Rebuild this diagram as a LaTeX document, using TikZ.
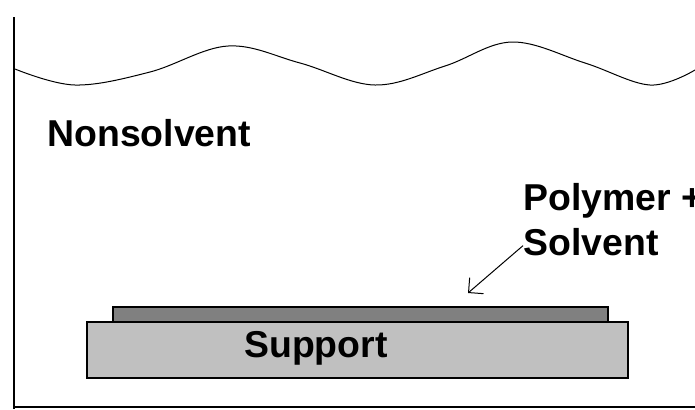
\documentclass[tikz,border=0pt]{standalone}
\usepackage{fontspec}
\setmainfont{Liberation Sans}
\usetikzlibrary{arrows.meta}
\definecolor{filmgray}{RGB}{128,128,128}
\definecolor{supportgray}{RGB}{192,192,192}
\begin{document}
\begin{tikzpicture}[x=0.5pt, y=-0.5pt,
    label/.style ={inner sep=0pt, font=\bfseries\fontsize{18.7}{22.5}\selectfont},
    layer/.style ={draw, line width=0.8pt}]
   \useasboundingbox (0,0) rectangle (695,409);
   % beaker
   \draw[line width=1.2pt] (14,17) -- (14,409);
   \draw[line width=0.6pt] (14,407) -- (695,407);
   \draw[line width=0.5pt] plot[smooth, tension=0.6] coordinates
      {(15,69) (75,85) (150,72) (228,46) (300,63) (375,85) (445,66) (512,42) (585,63) (650,85) (695,70)};
   % support and film
   \filldraw[layer, fill=supportgray] (87,322) rectangle (628,378);
   \filldraw[layer, fill=filmgray] (113,307) rectangle (608,322);
   \node[label, anchor=base] (support) at (316,357) {Support};
   \node[label, anchor=base west] (nonsolvent) at (47,146) {Nonsolvent};
   \node[label, anchor=base west] (polymer) at (523,210) {Polymer +};
   \node[label, anchor=base west] (solvent) at (523,255) {Solvent};
   \coordinate (tip) at (468,293);
   \draw[line width=0.5pt, -{Straight Barb[length=5.3pt, width=10.6pt]}] ([yshift=-2pt]solvent.west) -- (tip);
 \end{tikzpicture}
\end{document}
